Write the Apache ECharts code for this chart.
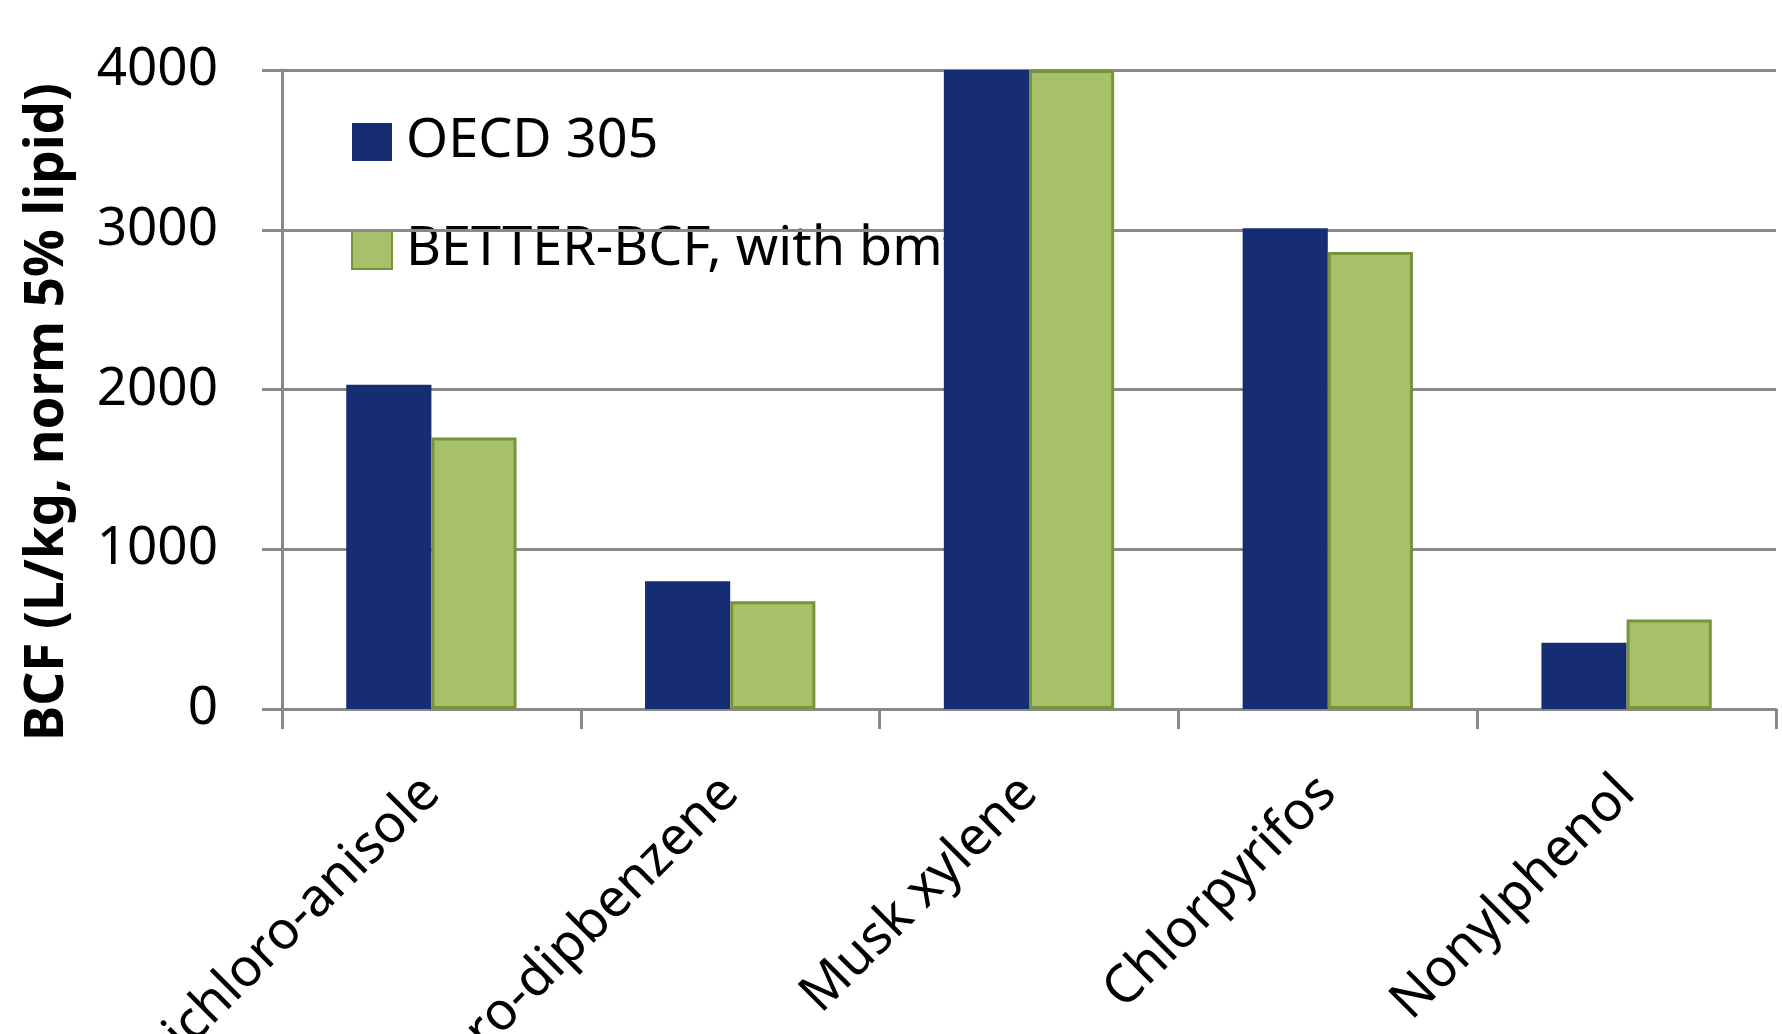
<!DOCTYPE html>
<html>
<head>
<meta charset="utf-8">
<script src="https://cdn.jsdelivr.net/npm/echarts@6/dist/echarts.min.js"></script>
<style>
  html, body { margin: 0; padding: 0; background: #ffffff; }
  #chart { width: 1782px; height: 1034px; }
</style>
</head>
<body>
<div id="chart"></div>
<script>
// Compounds tested
const categories = ['Trichloro-anisole', 'Pentachloro-dipbenzene', 'Musk xylene', 'Chlorpyrifos', 'Nonylphenol'];
// BCF values (L/kg, normalised to 5% lipid)
const oecd305 = [2030, 800, 4000, 3010, 415];
const betterBcf = [1700, 675, 4000, 2860, 560];
// Value axis ticks
const yMin = 0, yMax = 4000, yStep = 1000;

const seriesNames = ['OECD 305', 'BETTER-BCF, with bmf'];
const FONT = '"Noto Sans", "Open Sans", sans-serif';
const GRID_GREY = '#898989';

const chart = echarts.init(document.getElementById('chart'), null, { renderer: 'canvas' });

chart.setOption({
  animation: false,
  backgroundColor: '#ffffff',
  textStyle: { fontFamily: FONT },
  grid: { left: 282, right: 6, top: 70, bottom: 325, containLabel: false, outerBoundsMode: 'none' },
  legend: {
    z: 0,
    left: 346,
    top: 110,
    orient: 'vertical',
    icon: 'rect',
    itemWidth: 40,
    itemHeight: 38,
    itemGap: 54,
    selectedMode: false,
    textStyle: { fontFamily: FONT, fontSize: 54, color: '#000', lineHeight: 38, padding: [0, 0, 0, 9] },
    data: seriesNames
  },
  xAxis: {
    type: 'category',
    data: categories,
    z: 1,
    axisLine: { lineStyle: { color: GRID_GREY, width: 3 } },
    axisTick: { show: true, length: 20, lineStyle: { color: GRID_GREY, width: 3 } },
    axisLabel: {
      interval: 0,
      rotate: 45,
      margin: 76,
      fontFamily: FONT,
      fontSize: 53,
      color: '#000'
    },
    splitLine: { show: false }
  },
  yAxis: {
    type: 'value',
    min: yMin,
    max: yMax,
    interval: yStep,
    z: 1,
    axisLine: { show: true, lineStyle: { color: GRID_GREY, width: 3 } },
    axisTick: { show: true, length: 20, lineStyle: { color: GRID_GREY, width: 3 } },
    axisLabel: {
      margin: 64,
      fontFamily: FONT,
      fontSize: 53,
      color: '#000',
      formatter: function (v) { return String(v); }
    },
    splitLine: { show: true, lineStyle: { color: GRID_GREY, width: 3 } }
  },
  graphic: [{
    type: 'text',
    x: 48,
    y: 412,
    rotation: Math.PI / 2,
    style: {
      text: 'BCF (L/kg, norm 5% lipid)',
      fontFamily: FONT,
      fontWeight: 'bold',
      fontSize: 53,
      fill: '#000',
      align: 'center',
      verticalAlign: 'middle'
    }
  }],
  series: [
    {
      name: seriesNames[0],
      type: 'bar',
      z: 3,
      data: oecd305,
      barGap: '0%',
      barCategoryGap: '43%',
      itemStyle: { color: '#162C73' }
    },
    {
      name: seriesNames[1],
      type: 'bar',
      z: 3,
      data: betterBcf,
      barGap: '0%',
      barCategoryGap: '43%',
      itemStyle: { color: '#A6C16A', borderColor: '#77933C', borderWidth: 3 }
    }
  ]
});
</script>
</body>
</html>
